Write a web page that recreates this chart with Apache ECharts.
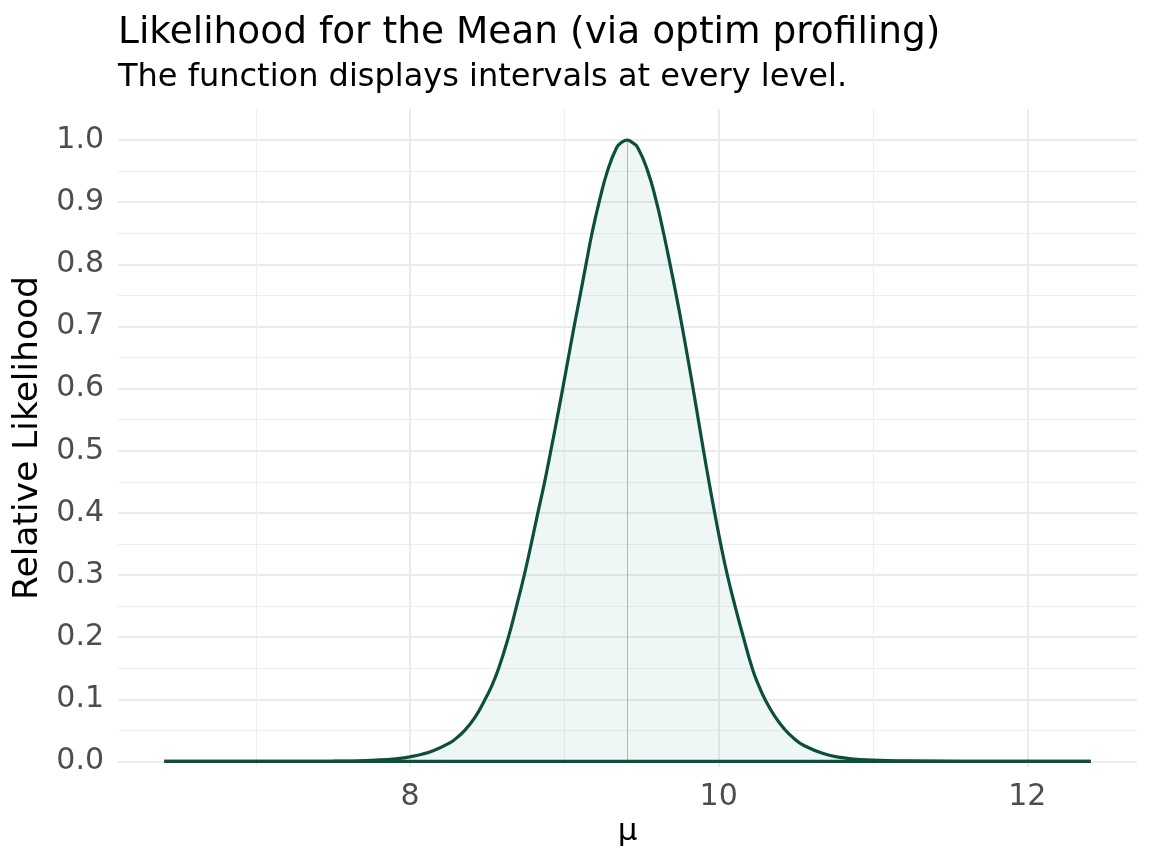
<!DOCTYPE html>
<html><head><meta charset="utf-8">
<script src="https://cdn.jsdelivr.net/npm/echarts@6/dist/echarts.min.js"></script>
<style>html,body{margin:0;padding:0;background:#fff}#c{width:1152px;height:864px}</style>
</head><body><div id="c"></div>
<script>
// ---- data ----
const muValues = [6.407, 7.0, 7.5, 7.8, 7.933, 8.0, 8.075, 8.149, 8.257, 8.3, 8.354, 8.42, 8.48, 8.53, 8.573, 8.635, 8.69, 8.74, 8.785, 8.828, 8.872, 8.912, 8.951, 8.989, 9.026, 9.063, 9.102, 9.140, 9.179, 9.225, 9.279, 9.339, 9.37, 9.408, 9.44, 9.475, 9.540, 9.597, 9.643, 9.685, 9.725, 9.763, 9.799, 9.834, 9.868, 9.902, 9.937, 9.974, 10.013, 10.056, 10.106, 10.160, 10.220, 10.26, 10.300, 10.365, 10.430, 10.49, 10.550, 10.678, 10.80, 10.916, 11.2, 11.6, 12.411];
const relLik = [0, 0.00003, 0.0004, 0.0024, 0.005, 0.0075, 0.0115, 0.017, 0.0298, 0.0375, 0.05, 0.071, 0.097, 0.122, 0.149, 0.198, 0.25, 0.30, 0.35, 0.40, 0.45, 0.50, 0.55, 0.60, 0.65, 0.70, 0.75, 0.80, 0.85, 0.90, 0.95, 0.988, 0.996, 1.0, 0.996, 0.988, 0.95, 0.90, 0.85, 0.80, 0.75, 0.70, 0.65, 0.60, 0.55, 0.50, 0.45, 0.40, 0.35, 0.30, 0.25, 0.20, 0.148, 0.122, 0.10, 0.072, 0.051, 0.0365, 0.026, 0.0126, 0.0061, 0.003, 0.0008, 0.0001, 0];
const peakMu = 9.408;
const xMajorTicks = [8, 10, 12];
const xMinorTicks = [7, 9, 11];
const yMajorTicks = [0, 0.1, 0.2, 0.3, 0.4, 0.5, 0.6, 0.7, 0.8, 0.9, 1.0];
const yMinorTicks = [0.05, 0.15, 0.25, 0.35, 0.45, 0.55, 0.65, 0.75, 0.85, 0.95];
const titleText = 'Likelihood for the Mean (via optim profiling)';
const subtitleText = 'The function displays intervals at every level.';
const xAxisName = 'μ';
const yAxisName = 'Relative Likelihood';

// ---- derived ----
const xLo = Math.min(...muValues), xHi = Math.max(...muValues);
const xPad = (xHi - xLo) * 0.05;
const yLo = Math.min(...relLik), yHi = Math.max(...relLik);
const xAxisMin = xLo - xPad, xAxisMax = xHi + xPad;
const yAxisMin = yLo - (yHi - yLo) * 0.009, yAxisMax = yHi + (yHi - yLo) * 0.05;
const curve = muValues.map((m, i) => [m, relLik[i]]);
const baseLine = [[xLo, 0], [xHi, 0]];

const FONT = 'DejaVu Sans';
const lineColor = '#0B4F3C';
const gridMajor = {color: '#EBEBEB', width: 2};
const gridMinor = {color: '#EEEEEE', width: 1};

const chart = echarts.init(document.getElementById('c'), null, {renderer: 'canvas'});
chart.setOption({
  animation: false,
  backgroundColor: '#ffffff',
  textStyle: {fontFamily: FONT},
  title: [
    {text: titleText, left: 118, top: 14, padding: 0, textStyle: {fontFamily: FONT, fontSize: 37.5, fontWeight: 'normal', color: '#000'}},
    {text: subtitleText, left: 118, top: 62, padding: 0, textStyle: {fontFamily: FONT, fontSize: 32, fontWeight: 'normal', color: '#000'}}
  ],
  grid: {left: 118, right: 15, top: 109, bottom: 97},
  xAxis: [
    {type: 'value', position: 'bottom', min: xAxisMin, max: xAxisMax,
     axisLine: {show: false}, axisTick: {show: false, customValues: xMajorTicks},
     axisLabel: {customValues: xMajorTicks, color: '#4D4D4D', fontSize: 30, fontFamily: FONT, margin: 15},
     splitLine: {show: true, lineStyle: gridMajor},
     name: xAxisName, nameLocation: 'middle', nameGap: 48,
     nameTextStyle: {fontSize: 31, color: '#000', fontFamily: FONT}},
    {type: 'value', position: 'top', min: xAxisMin, max: xAxisMax,
     axisLine: {show: false}, axisTick: {show: false, customValues: xMinorTicks},
     axisLabel: {show: false, customValues: xMinorTicks},
     splitLine: {show: true, lineStyle: gridMinor}}
  ],
  yAxis: [
    {type: 'value', position: 'left', min: yAxisMin, max: yAxisMax,
     axisLine: {show: false}, axisTick: {show: false, customValues: yMajorTicks},
     axisLabel: {customValues: yMajorTicks, color: '#4D4D4D', fontSize: 30, fontFamily: FONT, margin: 14,
                 formatter: v => Number(v).toFixed(1)},
     splitLine: {show: true, lineStyle: gridMajor},
     name: yAxisName, nameLocation: 'middle', nameGap: 68, nameRotate: 90,
     nameTextStyle: {fontSize: 34.5, color: '#000', fontFamily: FONT}},
    {type: 'value', position: 'right', min: yAxisMin, max: yAxisMax,
     axisLine: {show: false}, axisTick: {show: false, customValues: yMinorTicks},
     axisLabel: {show: false, customValues: yMinorTicks},
     splitLine: {show: true, lineStyle: gridMinor}}
  ],
  series: [
    {type: 'line', name: 'likelihood', data: curve, xAxisIndex: 0, yAxisIndex: 0,
     smooth: 0.5, showSymbol: false, z: 3,
     lineStyle: {color: lineColor, width: 3.2},
     areaStyle: {color: 'rgba(0,125,115,0.09)'},
     markLine: {silent: true, symbol: 'none', label: {show: false},
       lineStyle: {color: '#7a4a4a', width: 1, type: 'dotted', opacity: 0.8},
       data: [[{coord: [peakMu, 0]}, {coord: [peakMu, 1]}]]}},
    {type: 'line', name: 'base', data: baseLine, xAxisIndex: 0, yAxisIndex: 0,
     showSymbol: false, z: 4, lineStyle: {color: lineColor, width: 3.2}}
  ]
});
</script></body></html>
